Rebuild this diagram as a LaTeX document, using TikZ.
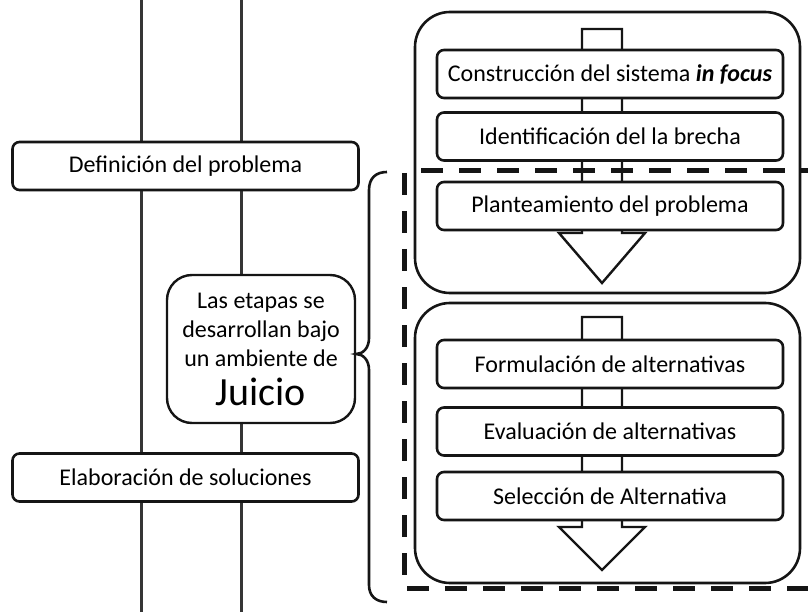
\documentclass[tikz,border=0pt]{standalone}
\usepackage{fontspec}
\setmainfont{Carlito}
\usetikzlibrary{shadows}
\definecolor{linegray}{HTML}{353535}
\definecolor{ink}{HTML}{151515}
\tikzset{
  stepbox/.style={draw=ink, line width=2.6pt, rounded corners=7pt, fill=white,
    minimum width=346pt, minimum height=48pt, inner sep=0pt,
    font=\fontsize{24}{29}\selectfont,
    drop shadow={opacity=0.25, shadow xshift=1.2pt, shadow yshift=-1.2pt}},
  bigbox/.style={draw=ink, line width=2.6pt, rounded corners=35pt},
  blockarrow/.style={draw=ink, line width=2.4pt, fill=white},
  rail/.style={draw=linegray, line width=3pt},
  dashline/.style={draw=ink, line width=5pt, dash pattern=on 22pt off 16pt},
  bracestyle/.style={draw=ink, line width=2.6pt},
  noteBox/.style={draw=ink, line width=2.4pt, rounded corners=25pt, fill=white,
    minimum width=188pt, minimum height=148pt, align=center, inner sep=0pt,
    font=\fontsize{24}{29}\selectfont}
}
\begin{document}
\begin{tikzpicture}[x=1pt,y=-1pt]
\useasboundingbox (0,0) rectangle (808,612);
% rails
\coordinate (railAtop) at (141,0);
\coordinate (railAbot) at (141,612);
\coordinate (railBtop) at (241,0);
\coordinate (railBbot) at (241,612);
\draw[rail] (railAtop) -- (railAbot);
\draw[rail] (railBtop) -- (railBbot);
% left boxes
\node[stepbox] (def) at (185.5,166) {Definición del problema};
\node[stepbox] (elab) at (185.5,477.5) {Elaboración de soluciones};
\node[noteBox] (juicio) at (261,349) {Las etapas se\\desarrollan bajo\\un ambiente de\\[10pt]{\fontsize{40}{44}\selectfont Juicio}};
% brace
\coordinate (bracetop) at (387,172);
\coordinate (bracebot) at (387,602);
\draw[bracestyle] (bracetop) .. controls (376,172) and (369,178) .. (369,190)
  -- (369,338) .. controls (369,348) and (363,354) .. (juicio.east |- 0,354)
  .. controls (363,354) and (369,360) .. (369,370)
  -- (369,585) .. controls (369,596) and (376,602) .. (bracebot);
% big boxes
\draw[bigbox] (415,12) rectangle (800,293);
\draw[bigbox] (415,303) rectangle (800,583);
% block arrows
\draw[blockarrow] (582,29) -- (622,29) -- (622,233) -- (645,233) -- (602,283) -- (559,233) -- (582,233) -- cycle;
\draw[blockarrow] (582,317) -- (622,317) -- (622,527) -- (645,527) -- (602,570) -- (559,527) -- (582,527) -- cycle;
% dashed frame
\coordinate (dA) at (404,173);
\coordinate (dB) at (404,588);
\coordinate (dC) at (812,588);
\coordinate (dD) at (421,171);
\coordinate (dE) at (812,171);
\draw[dashline] (dA) -- (dB) -- (dC);
\draw[dashline] (dD) -- (dE);
% inner steps
\node[stepbox] (s1) at (610,74) {Construcción del sistema \textbf{\textit{in focus}}};
\node[stepbox] (s2) at (610,136.5) {Identificación del la brecha};
\node[stepbox] (s3) at (610,206) {Planteamiento del problema};
\node[stepbox] (s4) at (610,364) {Formulación de alternativas};
\node[stepbox] (s5) at (610,431.5) {Evaluación de alternativas};
\node[stepbox] (s6) at (610,496) {Selección de Alternativa};
\end{tikzpicture}
\end{document}
